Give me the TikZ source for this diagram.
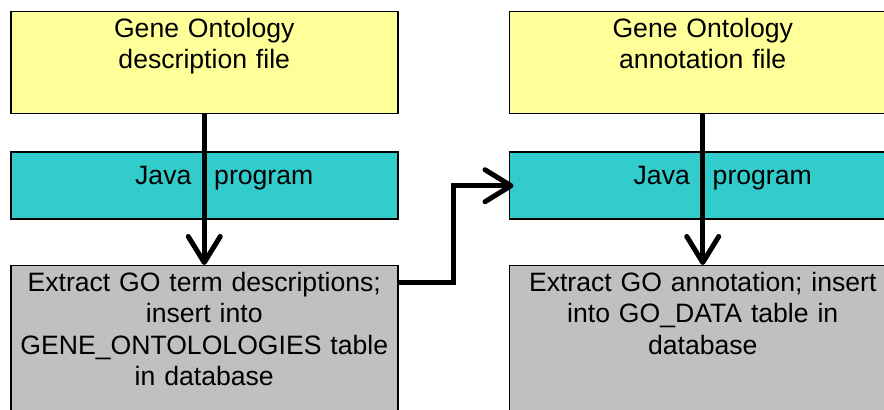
\documentclass[tikz,border=0pt]{standalone}
\usepackage{fontspec}
\setmainfont{Liberation Sans}
\usetikzlibrary{positioning,arrows.meta}
\definecolor{fileyellow}{HTML}{FFFF99}
\definecolor{progteal}{HTML}{33CCCC}
\definecolor{stepgray}{HTML}{C0C0C0}
\tikzstyle{block}=[
	rectangle,
	draw=black,
	line width=0.75pt,
	inner sep=0pt,
	minimum width=193.5pt]
\tikzstyle{file}=[block, fill=fileyellow, minimum height=51pt]
\tikzstyle{program}=[block, fill=progteal, minimum height=33.5pt]
\tikzstyle{extract}=[block, fill=stepgray, minimum height=85pt]
\tikzstyle{label}=[
	inner sep=0pt,
	anchor=north,
	text width=193.5pt,
	align=center,
	font=\fontsize{13.3}{15.6}\selectfont]
\tikzstyle{flow}=[
	line width=2.5pt,
	-{Straight Barb[length=13pt, width=16pt, line cap=round, line join=round]}]

\begin{document}
\begin{tikzpicture}

		\clip (0,0) rectangle (442pt,-205pt);

		\node (DescFile) [file, anchor=north west] at (5pt,-5.5pt) {};
		\node (JavaDesc) [program, below=18.5pt of DescFile] {};
		\node (ExtractDesc) [extract, below=22.5pt of JavaDesc] {};

		\node (AnnotFile) [file, right=55pt of DescFile] {};
		\node (JavaAnnot) [program, below=18.5pt of AnnotFile] {};
		\node (ExtractAnnot) [extract, below=22.5pt of JavaAnnot] {};

		\node (DescFileText) [label, below=3.5pt of DescFile.north] {
			Gene Ontology \\ description file
		};
		\node (JavaDescText) [label, below=7pt of JavaDesc.north, xshift=10pt] {
			Java\hspace{0.86em}program
		};
		\node (ExtractDescText) [label, below=3.5pt of ExtractDesc.north] {
			Extract GO term descriptions; \\ insert into \\ GENE\_ONTOLOLOGIES table \\ in database
		};

		\node (AnnotFileText) [label, below=3.5pt of AnnotFile.north] {
			Gene Ontology \\ annotation file
		};
		\node (JavaAnnotText) [label, below=7pt of JavaAnnot.north, xshift=10pt] {
			Java\hspace{0.86em}program
		};
		\node (ExtractAnnotText) [label, below=3.5pt of ExtractAnnot.north] {
			Extract GO annotation; insert \\ into GO\_DATA table in \\ database
		};

		\draw [flow] (DescFile.south) -- (ExtractDesc.north);
		\draw [flow] (AnnotFile.south) -- (ExtractAnnot.north);
		\draw [flow, shorten >=-2.5pt] ([yshift=-9pt]ExtractDesc.north east) -- ++(27.5pt,0) |- (JavaAnnot.west);

	\end{tikzpicture}
\end{document}
